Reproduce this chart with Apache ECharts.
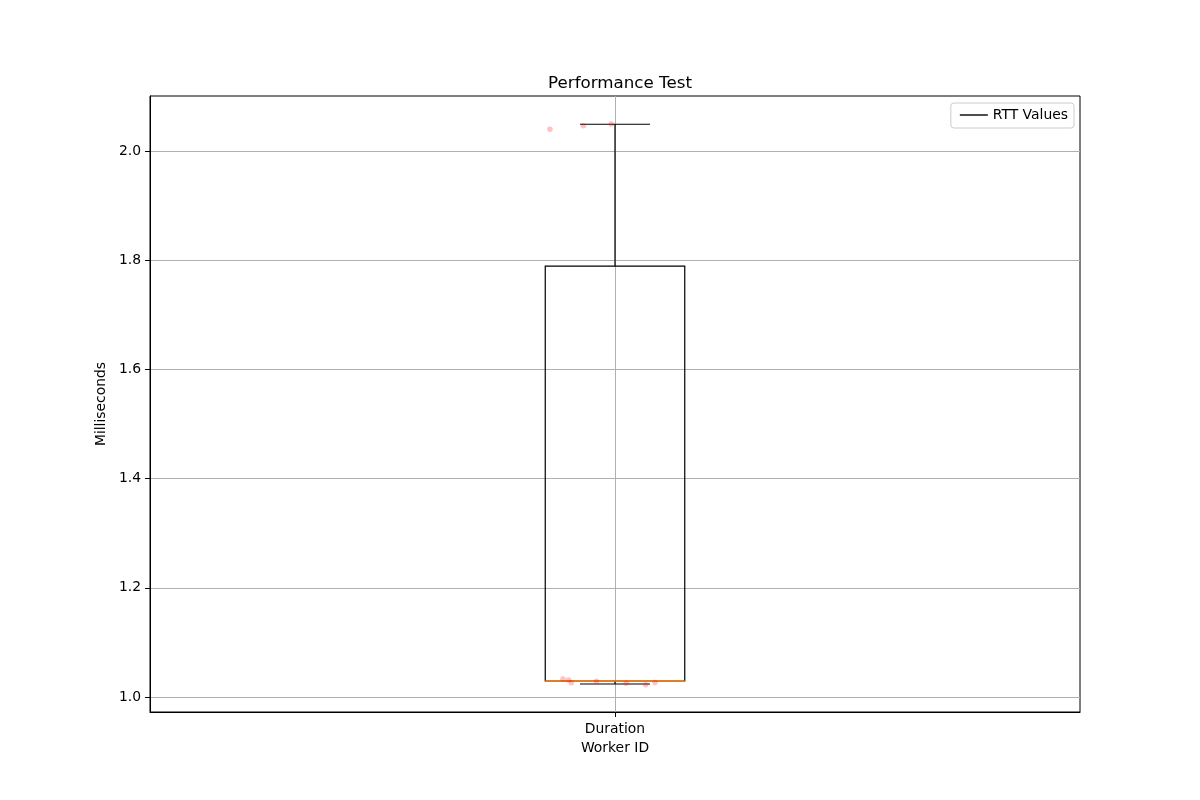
<!DOCTYPE html>
<html>
<head>
<meta charset="utf-8">
<script src="https://cdn.jsdelivr.net/npm/echarts@6/dist/echarts.min.js"></script>
<style>html,body{margin:0;padding:0;background:#fff;}#chart{width:1200px;height:800px;}</style>
</head>
<body>
<div id="chart"></div>
<script>
// ---- data ----
const categories = ['Duration'];
const rttValues = [2.040, 2.046, 2.0495, 1.033, 1.031, 1.026, 1.029, 1.025, 1.0225, 1.0264];
const jitterX = [-0.070, -0.034, -0.004, -0.056, -0.050, -0.047, -0.020, 0.012, 0.033, 0.043];
// [lowerWhisker, Q1, median, Q3, upperWhisker]
const boxStats = [1.0238, 1.0293, 1.0293, 1.789, 2.049];
const yTicks = [1.0, 1.2, 1.4, 1.6, 1.8, 2.0];

const FONT = 'DejaVu Sans';
const chart = echarts.init(document.getElementById('chart'), null, {renderer: 'canvas'});

const scatterData = rttValues.map((v, i) => [1 + jitterX[i], v]);

const option = {
  backgroundColor: '#fff',
  animation: false,
  textStyle: {fontFamily: FONT},
  title: {
    text: 'Performance Test', left: 615, top: 70, textAlign: 'center',
    textStyle: {fontFamily: FONT, fontSize: 16.7, fontWeight: 'normal', color: '#000'}
  },
  legend: {
    right: 126, top: 103,
    data: [{name: 'RTT Values', icon: 'rect', itemStyle: {color: '#000'}}],
    itemWidth: 28, itemHeight: 1.4, itemGap: 12,
    padding: [5, 6, 6, 9],
    borderColor: '#cccccc', borderWidth: 1, borderRadius: 3,
    textStyle: {fontFamily: FONT, fontSize: 13.9, color: '#000'}
  },
  grid: {
    left: 150, right: 120, top: 96, bottom: 88,
    show: true, borderColor: '#000', borderWidth: 1, backgroundColor: 'transparent'
  },
  xAxis: {
    type: 'value', min: 0.5, max: 1.5,
    name: 'Worker ID', nameLocation: 'middle', nameGap: 29,
    nameTextStyle: {fontFamily: FONT, fontSize: 13.9, color: '#000'},
    axisLine: {show: true, lineStyle: {color: '#000', width: 1}},
    axisTick: {show: true, length: 5, lineStyle: {color: '#000'}, customValues: [1]},
    axisLabel: {show: true, margin: 10, customValues: [1], formatter: () => categories[0],
      fontFamily: FONT, fontSize: 13.9, color: '#000'},
    splitLine: {show: true, lineStyle: {color: '#b0b0b0', width: 1}}
  },
  yAxis: {
    type: 'value', min: 0.9725, max: 2.1007,
    name: 'Milliseconds', nameLocation: 'middle', nameGap: 34,
    nameTextStyle: {fontFamily: FONT, fontSize: 13.9, color: '#000'},
    axisLine: {show: true, lineStyle: {color: '#000', width: 1}},
    axisTick: {show: true, length: 5, lineStyle: {color: '#000'}, customValues: yTicks},
    axisLabel: {show: true, margin: 9, customValues: yTicks, formatter: v => v.toFixed(1),
      fontFamily: FONT, fontSize: 13.9, color: '#000'},
    splitLine: {show: true, lineStyle: {color: '#b0b0b0', width: 1}}
  },
  series: [
    {
      name: 'RTT Values',
      type: 'custom',
      data: [[1].concat(boxStats)],
      encode: {x: 0, y: [1, 2, 3, 4, 5]},
      z: 3,
      renderItem: function (params, api) {
        const x = api.value(0);
        const lo = api.value(1), q1 = api.value(2), med = api.value(3), q3 = api.value(4), hi = api.value(5);
        const hb = 0.075, hc = 0.0376;
        const tl = api.coord([x - hb, q3]);
        const br = api.coord([x + hb, q1]);
        const c = api.coord([x, q3]);
        const cHi = api.coord([x, hi]);
        const cQ1 = api.coord([x, q1]);
        const cLo = api.coord([x, lo]);
        const capL = api.coord([x - hc, hi]);
        const capR = api.coord([x + hc, hi]);
        const capL2 = api.coord([x - hc, lo]);
        const capR2 = api.coord([x + hc, lo]);
        const mL = api.coord([x - hb, med]);
        const mR = api.coord([x + hb, med]);
        const black = {stroke: '#000', lineWidth: 1.2, fill: null};
        return {
          type: 'group',
          children: [
            {type: 'rect', shape: {x: tl[0], y: tl[1], width: br[0] - tl[0], height: br[1] - tl[1]},
              style: {stroke: '#000', lineWidth: 1.2, fill: 'none'}},
            {type: 'line', shape: {x1: c[0], y1: c[1], x2: cHi[0], y2: cHi[1]}, style: black},
            {type: 'line', shape: {x1: cQ1[0], y1: cQ1[1], x2: cLo[0], y2: cLo[1]}, style: black},
            {type: 'line', shape: {x1: capL[0], y1: capL[1], x2: capR[0], y2: capR[1]}, style: black},
            {type: 'line', shape: {x1: capL2[0], y1: capL2[1], x2: capR2[0], y2: capR2[1]}, style: black},
            {type: 'line', shape: {x1: mL[0], y1: mL[1], x2: mR[0], y2: mR[1]},
              style: {stroke: '#ff7f0e', lineWidth: 1.6}}
          ]
        };
      }
    },
    {
      name: 'points',
      type: 'scatter',
      data: scatterData,
      symbol: 'circle',
      symbolSize: 5.5,
      z: 4,
      itemStyle: {color: 'rgba(255,0,0,0.3)'}
    }
  ]
};
chart.setOption(option);
</script>
</body>
</html>
